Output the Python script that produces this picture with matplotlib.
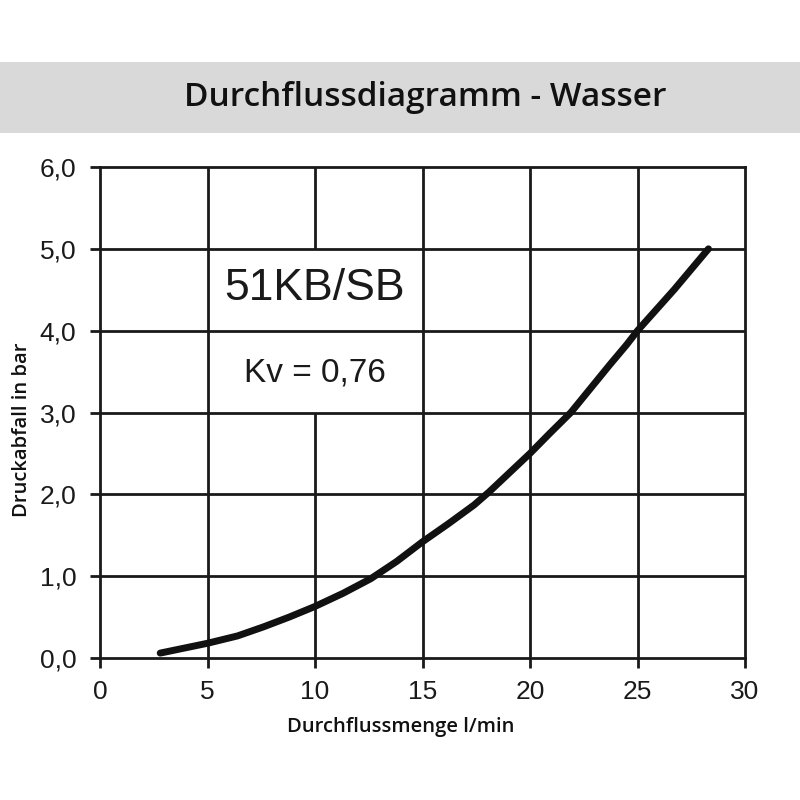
import matplotlib
matplotlib.use("Agg")
import matplotlib.pyplot as plt
from matplotlib.patches import Rectangle

flow = [2.8, 3.9, 5.0, 6.4, 7.6, 8.8, 10.0, 11.3, 12.6, 13.8, 15.0, 16.2, 17.4, 18.1,
        20.0, 20.9, 21.9, 22.8, 23.7, 24.5, 25.0, 26.7, 28.3]
pressure = [0.06, 0.12, 0.18, 0.27, 0.38, 0.50, 0.63, 0.79, 0.97, 1.18, 1.42, 1.64, 1.87, 2.03,
            2.50, 2.74, 3.0, 3.29, 3.58, 3.83, 4.0, 4.50, 5.0]
x_ticks = [0, 5, 10, 15, 20, 25, 30]
y_ticks = [0, 1, 2, 3, 4, 5, 6]
y_labels = ["0,0", "1,0", "2,0", "3,0", "4,0", "5,0", "6,0"]

title = "Durchflussdiagramm - Wasser"
xlabel = "Durchflussmenge l/min"
ylabel = "Druckabfall in bar"
model = "51KB/SB"
kv = "Kv = 0,76"

INK = "#1a1a1a"
fig = plt.figure(figsize=(8, 8), dpi=100)
fig.patches.append(Rectangle((0, 1 - 133 / 800), 1, 71 / 800, transform=fig.transFigure,
                             facecolor="#d9d9d9", edgecolor="none", zorder=0))
fig.text(425 / 800, 1 - 97 / 800, title, ha="center", va="center",
         family=["Open Sans", "DejaVu Sans"], fontweight="semibold", fontsize=24, color="#111111")

ax = fig.add_axes([100 / 800, 1 - 658 / 800, 645 / 800, 491 / 800])
ax.set_xlim(x_ticks[0], x_ticks[-1])
ax.set_ylim(y_ticks[0], y_ticks[-1])
ax.set_xticks(x_ticks)
ax.set_yticks(y_ticks)
ax.set_xticklabels([str(t) for t in x_ticks], family=["Liberation Sans"], fontsize=19)
ax.set_yticklabels(y_labels, family=["Liberation Sans"], fontsize=19)
ax.tick_params(axis="x", pad=9)
ax.tick_params(axis="y", pad=10)
ax.tick_params(direction="out", length=7, width=2, color=INK, labelcolor=INK)
for s in ax.spines.values():
    s.set_linewidth(2)
    s.set_color(INK)

# grid lines (the x=10 line is interrupted behind the label area between 3 and 5)
for xv in x_ticks[1:-1]:
    if xv == 10:
        ax.vlines(xv, y_ticks[0], 3, color=INK, linewidth=2, zorder=1)
        ax.vlines(xv, 5, y_ticks[-1], color=INK, linewidth=2, zorder=1)
    else:
        ax.vlines(xv, y_ticks[0], y_ticks[-1], color=INK, linewidth=2, zorder=1)
for yv in y_ticks[1:-1]:
    ax.hlines(yv, x_ticks[0], x_ticks[-1], color=INK, linewidth=2, zorder=1)

ax.plot(flow, pressure, color="#111111", linewidth=5, solid_capstyle="round",
        solid_joinstyle="round", zorder=3)

ax.text(10, 4.52, model, ha="center", va="center", family=["Liberation Sans"],
        fontsize=32, color=INK, zorder=4)
ax.text(10, 3.48, kv, ha="center", va="center", family=["Liberation Sans"],
        fontsize=24, color=INK, zorder=4)

fig.text(401 / 800, 1 - 727 / 800, xlabel, ha="center", va="center",
         family=["Open Sans", "DejaVu Sans"], fontweight="semibold", fontsize=14.5, color="#111111")
fig.text(22 / 800, 1 - 430 / 800, ylabel, ha="center", va="center", rotation=90,
         family=["Open Sans", "DejaVu Sans"], fontweight="semibold", fontsize=14.5, color="#111111")

fig.savefig("out.png", dpi=100)
